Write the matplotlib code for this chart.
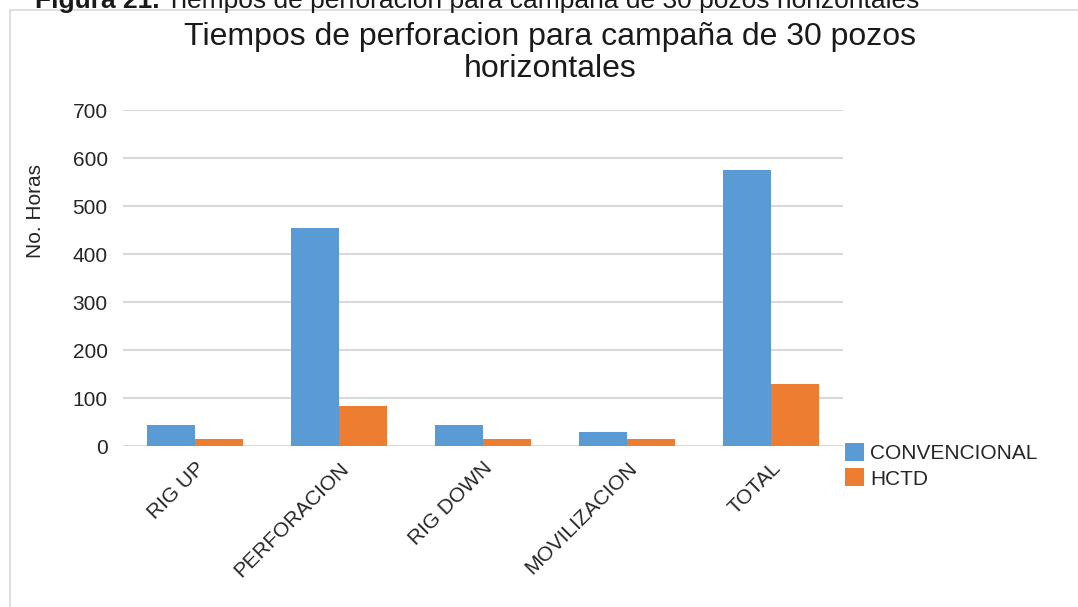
import matplotlib
matplotlib.use("Agg")
import matplotlib.pyplot as plt
from matplotlib.patches import Rectangle

plt.rcParams['font.family'] = ['Liberation Sans', 'DejaVu Sans']

categories = ["RIG UP", "PERFORACION", "RIG DOWN", "MOVILIZACION", "TOTAL"]
convencional = [44, 455, 44, 30, 575]
hctd = [15, 84, 15, 15, 129]
series_names = ["CONVENCIONAL", "HCTD"]
yticks = [0, 100, 200, 300, 400, 500, 600, 700]

W, H = 1078, 607
fig = plt.figure(figsize=(W / 100, H / 100), dpi=100)
TXT = "#262626"
FS = 15

# outer border
fig.patches.append(Rectangle((10 / W, -0.01), 1.02, 1 - 10 / H + 0.01,
                             transform=fig.transFigure, fill=False,
                             edgecolor="#d9d9d9", linewidth=1.2))

# caption (partially cut at the top, as in the source image)
cap_bold = fig.text(35 / W, 1 - 8 / H, "Figura 21.", fontsize=19,
                    fontweight="bold", ha="left", va="baseline", color="#1a1a1a")
fig.canvas.draw()
bb = cap_bold.get_window_extent(renderer=fig.canvas.get_renderer())
fig.text((bb.x1 + 6) / W, 1 - 8 / H,
         "Tiempos de perforacion para campaña de 30 pozos horizontales",
         fontsize=19, ha="left", va="baseline", color="#1a1a1a")

ax = fig.add_axes([123 / W, 161 / H, 720 / W, 336 / H])
x = list(range(len(categories)))
bw = 1 / 3
ax.bar([i - bw / 2 for i in x], convencional, width=bw, color="#5B9BD5",
       label=series_names[0], zorder=3)
ax.bar([i + bw / 2 for i in x], hctd, width=bw, color="#ED7D31",
       label=series_names[1], zorder=3)

ax.set_xlim(-0.5, len(categories) - 0.5)
ax.set_ylim(0, 700)
ax.set_yticks(yticks)
ax.set_yticklabels([str(v) for v in yticks], fontsize=FS, color=TXT)
ax.yaxis.grid(True, color="#d9d9d9", linewidth=1.5, zorder=0)
ax.set_axisbelow(True)
ax.tick_params(axis="y", length=0, pad=11)
ax.tick_params(axis="x", length=0, pad=9)
ax.set_xticks(x)
ax.set_xticklabels(categories, rotation=45, ha="right", va="top",
                   rotation_mode="anchor", fontsize=FS, color=TXT)
for s in ax.spines.values():
    s.set_visible(False)

ax.set_ylabel("No. Horas", fontsize=FS, color=TXT)
ax.yaxis.set_label_coords(-78 / 720, (446 - 211) / 336)

fig.text(550 / W, 1 - 53 / H,
         "Tiempos de perforacion para campaña de 30 pozos\nhorizontales",
         fontsize=23, ha="center", va="center", color="#1a1a1a",
         linespacing=1.12)

leg = fig.legend(loc="upper left", bbox_to_anchor=(843 / W, 1 - 441 / H),
                 frameon=False, fontsize=FS, handlelength=0.9,
                 handleheight=0.95, handletextpad=0.3, labelspacing=0.25,
                 borderaxespad=0, borderpad=0.1)
for t in leg.get_texts():
    t.set_color(TXT)

fig.savefig("out.png", dpi=100, facecolor="white")
